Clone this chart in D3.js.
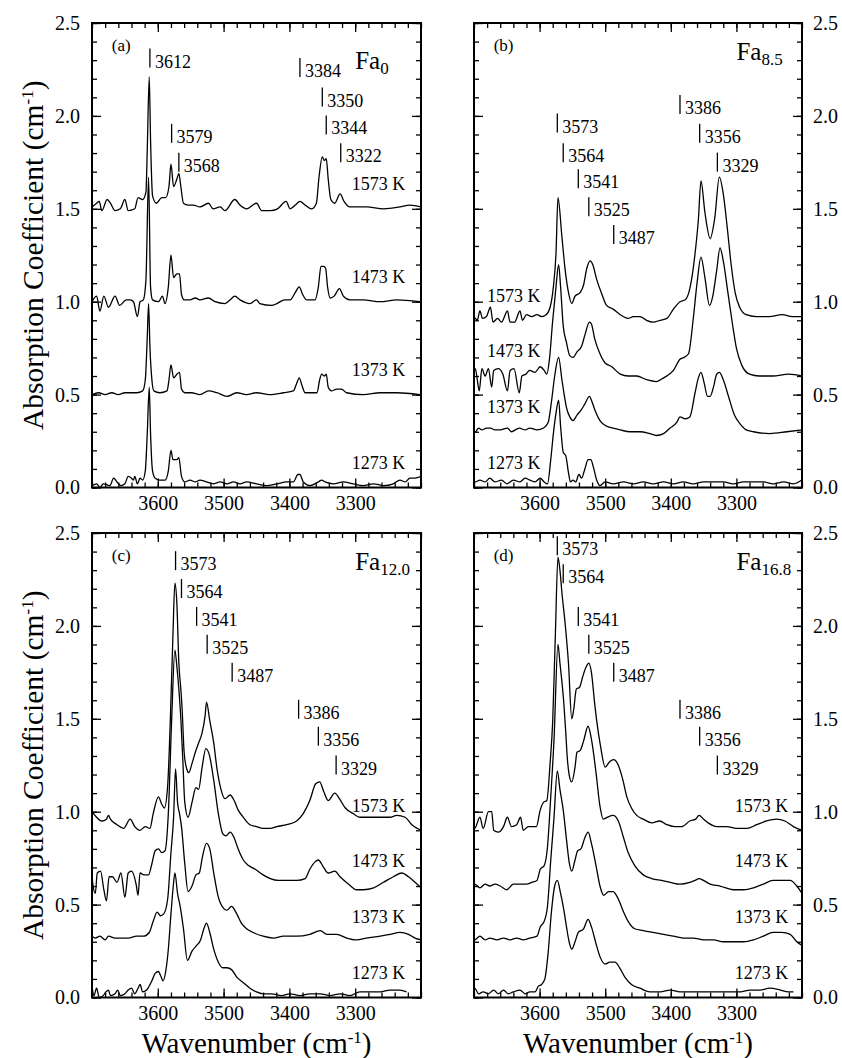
<!DOCTYPE html>
<html><head><meta charset="utf-8">
<script src="https://cdn.jsdelivr.net/npm/d3@7"></script>
<style>
body{margin:0;background:#fff}
svg{display:block;font-family:"Liberation Serif","Times New Roman","DejaVu Serif",serif}
text{font-family:"Liberation Serif","Times New Roman","DejaVu Serif",serif;fill:#000}
</style>
</head><body>
<svg id="c" width="842" height="1058"></svg>
<script>
// ---------- tick values ----------
const xTicks = [3600, 3500, 3400, 3300];
const xMinorTicks = [3700,3680,3660,3640,3620,3600,3580,3560,3540,3520,3500,3480,3460,3440,3420,3400,3380,3360,3340,3320,3300,3280,3260,3240,3220,3200];
const yTicks = [0, 0.5, 1.0, 1.5, 2.0, 2.5];
const yMinorTicks = [0,0.1,0.2,0.3,0.4,0.5,0.6,0.7,0.8,0.9,1.0,1.1,1.2,1.3,1.4,1.5,1.6,1.7,1.8,1.9,2.0,2.1,2.2,2.3,2.4,2.5];
const temps = ["1573 K", "1473 K", "1373 K", "1273 K"];

// ---------- Fa0 spectra [wavenumber, absorption] ----------
const fa0_1573 = [[3700,1.51],[3693,1.53],[3689,1.54],[3685,1.49],[3677,1.55],[3672,1.53],[3665,1.49],[3657,1.50],[3650,1.55],[3645,1.49],[3635,1.50],[3630,1.56],[3623,1.55],[3618,1.59],[3616,1.82],[3613,2.21],[3611,1.87],[3608,1.57],[3602,1.53],[3594,1.56],[3588,1.56],[3583,1.62],[3580,1.74],[3576,1.62],[3571,1.66],[3568,1.69],[3565,1.62],[3561,1.53],[3554,1.52],[3546,1.52],[3536,1.51],[3523,1.53],[3516,1.50],[3505,1.51],[3498,1.49],[3483,1.55],[3475,1.52],[3465,1.50],[3450,1.53],[3442,1.49],[3429,1.49],[3418,1.50],[3405,1.54],[3399,1.50],[3391,1.52],[3384,1.54],[3376,1.52],[3366,1.50],[3359,1.53],[3355,1.67],[3350,1.78],[3347,1.76],[3344,1.77],[3341,1.66],[3337,1.55],[3331,1.53],[3323,1.58],[3317,1.54],[3308,1.51],[3283,1.51],[3257,1.50],[3232,1.51],[3217,1.52],[3200,1.51]];
const fa0_1473 = [[3700,1.00],[3693,1.03],[3688,0.95],[3682,1.03],[3675,0.97],[3665,1.03],[3658,0.98],[3648,1.01],[3642,1.01],[3637,1.00],[3631,0.92],[3627,1.00],[3622,1.01],[3618,1.12],[3614,1.67],[3611,1.08],[3608,1.01],[3599,1.00],[3593,1.03],[3589,0.99],[3584,1.08],[3580,1.25],[3576,1.13],[3571,1.15],[3567,1.15],[3564,1.04],[3560,1.01],[3551,1.01],[3543,1.02],[3536,1.01],[3523,1.02],[3513,1.00],[3498,0.99],[3490,1.01],[3483,1.03],[3475,1.01],[3460,0.99],[3450,1.01],[3445,0.99],[3427,0.98],[3419,0.99],[3407,1.01],[3399,1.01],[3391,1.05],[3385,1.08],[3380,1.04],[3374,1.01],[3361,1.01],[3356,1.08],[3352,1.19],[3348,1.19],[3345,1.18],[3342,1.08],[3338,1.02],[3332,1.03],[3324,1.07],[3318,1.03],[3308,1.01],[3288,1.01],[3262,1.00],[3237,1.01],[3202,1.00]];
const fa0_1373 = [[3700,0.50],[3690,0.51],[3680,0.50],[3670,0.51],[3660,0.50],[3650,0.51],[3642,0.51],[3632,0.51],[3623,0.52],[3619,0.58],[3616,0.81],[3614,0.99],[3612,0.76],[3609,0.58],[3606,0.52],[3597,0.51],[3586,0.52],[3583,0.58],[3580,0.66],[3576,0.59],[3571,0.61],[3567,0.62],[3564,0.53],[3559,0.51],[3549,0.51],[3536,0.50],[3523,0.52],[3510,0.51],[3495,0.49],[3480,0.51],[3465,0.50],[3450,0.51],[3430,0.50],[3409,0.51],[3394,0.52],[3389,0.56],[3385,0.59],[3381,0.55],[3376,0.51],[3358,0.51],[3354,0.58],[3351,0.61],[3347,0.60],[3344,0.61],[3341,0.54],[3336,0.52],[3328,0.53],[3321,0.53],[3313,0.51],[3288,0.50],[3262,0.51],[3237,0.51],[3202,0.50]];
const fa0_1273 = [[3700,0.01],[3693,0.02],[3688,0.00],[3683,0.02],[3673,0.01],[3667,0.05],[3662,0.03],[3656,0.01],[3650,0.02],[3645,0.06],[3640,0.05],[3637,0.04],[3635,0.06],[3631,0.02],[3627,0.05],[3623,0.04],[3619,0.09],[3616,0.29],[3613,0.54],[3611,0.29],[3608,0.09],[3604,0.05],[3597,0.04],[3589,0.04],[3584,0.09],[3580,0.20],[3577,0.15],[3571,0.15],[3568,0.16],[3564,0.06],[3559,0.03],[3551,0.04],[3543,0.03],[3536,0.04],[3526,0.03],[3516,0.02],[3505,0.03],[3495,0.02],[3485,0.03],[3475,0.02],[3465,0.03],[3450,0.02],[3435,0.01],[3419,0.02],[3404,0.03],[3394,0.03],[3387,0.07],[3384,0.07],[3379,0.03],[3369,0.01],[3356,0.03],[3351,0.04],[3346,0.03],[3333,0.02],[3318,0.03],[3303,0.02],[3288,0.01],[3272,0.02],[3257,0.01],[3242,0.02],[3232,0.04],[3224,0.03],[3217,0.05],[3209,0.05],[3200,0.06]];

// ---------- Fa8.5 spectra ----------
const fa85_1573 = [[3700,0.91],[3698,0.91],[3695,0.90],[3691,0.95],[3687,0.91],[3681,0.92],[3675,0.97],[3671,0.89],[3664,0.91],[3658,0.89],[3649,0.95],[3645,0.89],[3638,0.89],[3630,0.95],[3626,0.90],[3620,0.93],[3612,0.92],[3604,0.93],[3597,0.92],[3590,0.93],[3584,0.97],[3579,1.08],[3575,1.26],[3572,1.56],[3566,1.35],[3561,1.17],[3556,1.05],[3551,0.99],[3546,1.03],[3538,1.05],[3533,1.09],[3528,1.18],[3523,1.22],[3519,1.20],[3513,1.12],[3505,1.04],[3498,0.98],[3488,0.96],[3477,0.93],[3465,0.91],[3457,0.92],[3447,0.92],[3437,0.90],[3427,0.89],[3416,0.90],[3406,0.91],[3396,0.96],[3386,1.00],[3378,1.01],[3371,1.07],[3363,1.26],[3358,1.44],[3354,1.65],[3348,1.48],[3340,1.34],[3333,1.45],[3326,1.67],[3320,1.58],[3314,1.40],[3308,1.20],[3302,1.05],[3295,0.97],[3285,0.93],[3270,0.92],[3250,0.92],[3230,0.93],[3215,0.92],[3200,0.92]];
const fa85_1473 = [[3700,0.62],[3698,0.64],[3695,0.58],[3692,0.52],[3688,0.64],[3683,0.60],[3678,0.64],[3673,0.54],[3670,0.63],[3663,0.64],[3656,0.61],[3649,0.52],[3645,0.63],[3639,0.64],[3631,0.51],[3627,0.60],[3621,0.61],[3615,0.63],[3607,0.62],[3599,0.65],[3593,0.63],[3589,0.61],[3585,0.69],[3580,0.90],[3575,1.08],[3571,1.20],[3568,1.08],[3564,0.87],[3559,0.78],[3554,0.71],[3549,0.70],[3543,0.73],[3536,0.76],[3531,0.82],[3524,0.89],[3521,0.88],[3516,0.80],[3508,0.72],[3500,0.67],[3490,0.65],[3477,0.61],[3465,0.60],[3452,0.60],[3437,0.58],[3422,0.57],[3411,0.59],[3396,0.63],[3386,0.69],[3380,0.70],[3373,0.72],[3366,0.90],[3360,1.10],[3354,1.24],[3348,1.13],[3341,0.98],[3336,1.03],[3330,1.17],[3325,1.29],[3320,1.22],[3313,1.05],[3306,0.88],[3300,0.75],[3292,0.66],[3280,0.61],[3265,0.60],[3245,0.60],[3220,0.61],[3200,0.60]];
const fa85_1373 = [[3700,0.30],[3698,0.30],[3693,0.32],[3688,0.31],[3681,0.32],[3675,0.32],[3668,0.31],[3660,0.31],[3649,0.32],[3643,0.30],[3631,0.32],[3622,0.31],[3615,0.32],[3604,0.31],[3594,0.32],[3587,0.35],[3582,0.46],[3577,0.60],[3571,0.70],[3566,0.58],[3563,0.51],[3559,0.43],[3554,0.38],[3549,0.36],[3543,0.39],[3536,0.42],[3531,0.45],[3524,0.49],[3521,0.47],[3516,0.42],[3508,0.36],[3498,0.33],[3488,0.32],[3477,0.31],[3462,0.30],[3447,0.30],[3432,0.29],[3422,0.28],[3411,0.29],[3401,0.32],[3391,0.35],[3386,0.38],[3378,0.37],[3371,0.38],[3363,0.51],[3358,0.59],[3354,0.62],[3349,0.56],[3344,0.49],[3340,0.49],[3335,0.54],[3330,0.61],[3326,0.62],[3320,0.58],[3312,0.49],[3303,0.39],[3295,0.345],[3285,0.31],[3274,0.30],[3249,0.29],[3223,0.30],[3200,0.31]];
const fa85_1273 = [[3700,0.03],[3698,0.03],[3691,0.04],[3683,0.03],[3676,0.05],[3668,0.03],[3658,0.04],[3650,0.02],[3640,0.04],[3630,0.03],[3622,0.05],[3615,0.04],[3607,0.03],[3599,0.05],[3593,0.03],[3588,0.02],[3583,0.15],[3579,0.29],[3575,0.40],[3571,0.47],[3568,0.33],[3564,0.19],[3560,0.17],[3556,0.08],[3553,0.03],[3549,0.04],[3545,0.03],[3540,0.07],[3536,0.05],[3531,0.10],[3526,0.15],[3522,0.15],[3518,0.11],[3513,0.04],[3508,0.01],[3500,0.03],[3488,0.02],[3472,0.03],[3457,0.02],[3442,0.03],[3427,0.02],[3411,0.03],[3396,0.02],[3381,0.03],[3366,0.02],[3350,0.03],[3335,0.03],[3320,0.03],[3305,0.02],[3289,0.03],[3274,0.03],[3259,0.03],[3244,0.02],[3228,0.03],[3213,0.02],[3200,0.04]];

// ---------- Fa12.0 spectra ----------
const fa120_1573 = [[3700,1.00],[3693,0.97],[3685,0.95],[3678,0.96],[3675,0.98],[3672,0.96],[3662,0.93],[3652,0.91],[3642,0.96],[3635,0.92],[3627,0.90],[3619,0.92],[3612,0.91],[3607,0.99],[3599,1.08],[3594,1.04],[3590,1.02],[3585,1.14],[3581,1.49],[3577,1.95],[3574,2.23],[3571,2.12],[3568,1.80],[3565,1.66],[3563,1.55],[3560,1.32],[3556,1.23],[3553,1.21],[3548,1.26],[3543,1.32],[3538,1.37],[3533,1.42],[3528,1.52],[3526,1.59],[3521,1.49],[3515,1.37],[3510,1.23],[3504,1.12],[3498,1.07],[3490,1.09],[3484,1.06],[3478,1.01],[3470,0.97],[3460,0.93],[3450,0.92],[3440,0.91],[3429,0.91],[3419,0.92],[3404,0.93],[3389,0.95],[3379,0.99],[3369,1.06],[3360,1.15],[3354,1.16],[3348,1.11],[3341,1.06],[3331,1.10],[3324,1.07],[3315,1.02],[3303,0.99],[3293,0.97],[3277,0.97],[3262,0.97],[3247,0.97],[3237,0.98],[3224,0.97],[3214,0.93],[3200,0.90]];
const fa120_1473 = [[3700,0.67],[3699,0.62],[3695,0.56],[3692,0.67],[3687,0.68],[3682,0.58],[3678,0.52],[3674,0.65],[3669,0.65],[3662,0.62],[3656,0.67],[3650,0.54],[3645,0.67],[3640,0.68],[3633,0.61],[3630,0.55],[3627,0.67],[3621,0.66],[3614,0.66],[3609,0.72],[3604,0.79],[3599,0.80],[3594,0.78],[3589,0.79],[3584,0.99],[3579,1.49],[3574,1.87],[3571,1.78],[3568,1.66],[3565,1.50],[3562,1.28],[3559,1.05],[3554,0.97],[3548,1.05],[3542,1.13],[3538,1.12],[3533,1.23],[3527,1.34],[3522,1.31],[3515,1.17],[3508,0.99],[3501,0.88],[3496,0.87],[3490,0.89],[3484,0.86],[3478,0.80],[3470,0.74],[3462,0.71],[3452,0.69],[3440,0.66],[3429,0.64],[3417,0.63],[3404,0.63],[3389,0.63],[3376,0.64],[3369,0.69],[3361,0.73],[3356,0.74],[3348,0.70],[3341,0.67],[3331,0.68],[3323,0.65],[3310,0.61],[3298,0.58],[3288,0.58],[3272,0.59],[3257,0.62],[3242,0.65],[3229,0.67],[3219,0.65],[3209,0.62],[3200,0.59]];
const fa120_1373 = [[3700,0.33],[3695,0.32],[3688,0.33],[3680,0.31],[3675,0.33],[3665,0.32],[3655,0.32],[3645,0.32],[3632,0.33],[3622,0.33],[3613,0.35],[3607,0.41],[3601,0.46],[3596,0.44],[3591,0.45],[3585,0.53],[3580,0.78],[3576,0.97],[3573,1.23],[3570,1.05],[3567,0.99],[3564,0.92],[3559,0.72],[3554,0.57],[3548,0.60],[3542,0.66],[3537,0.67],[3532,0.76],[3526,0.83],[3521,0.80],[3515,0.67],[3508,0.54],[3500,0.48],[3495,0.47],[3488,0.49],[3480,0.45],[3473,0.40],[3465,0.37],[3455,0.35],[3440,0.33],[3424,0.32],[3409,0.33],[3389,0.33],[3369,0.34],[3353,0.36],[3343,0.34],[3328,0.34],[3313,0.32],[3298,0.31],[3283,0.32],[3262,0.33],[3247,0.34],[3232,0.35],[3219,0.34],[3209,0.32],[3200,0.31]];
const fa120_1273 = [[3700,0.06],[3697,0.01],[3693,0.05],[3689,0.00],[3683,0.01],[3679,0.03],[3675,0.04],[3672,0.01],[3665,0.02],[3661,0.04],[3657,0.01],[3650,0.02],[3645,0.04],[3640,0.05],[3635,0.02],[3630,0.05],[3627,0.07],[3623,0.03],[3617,0.04],[3609,0.09],[3604,0.13],[3599,0.14],[3596,0.12],[3592,0.09],[3588,0.14],[3584,0.26],[3580,0.45],[3577,0.58],[3574,0.67],[3570,0.56],[3566,0.49],[3561,0.37],[3555,0.20],[3548,0.25],[3541,0.28],[3535,0.31],[3530,0.37],[3526,0.40],[3521,0.35],[3515,0.26],[3508,0.19],[3501,0.16],[3495,0.16],[3488,0.15],[3480,0.11],[3470,0.08],[3460,0.05],[3450,0.03],[3440,0.02],[3427,0.02],[3412,0.01],[3399,0.02],[3384,0.01],[3369,0.02],[3353,0.02],[3338,0.01],[3323,0.02],[3308,0.01],[3293,0.03],[3277,0.03],[3262,0.03],[3247,0.04],[3232,0.04],[3222,0.03]];

// ---------- Fa16.8 spectra ----------
const fa168_1573 = [[3700,0.91],[3699,0.91],[3691,0.97],[3686,0.91],[3678,1.00],[3673,1.00],[3670,0.90],[3663,0.89],[3655,0.92],[3649,0.97],[3643,0.92],[3635,0.93],[3629,0.97],[3625,0.90],[3617,0.92],[3610,0.92],[3605,0.92],[3599,1.01],[3594,1.05],[3589,1.06],[3584,1.26],[3580,1.49],[3576,1.95],[3572,2.37],[3569,2.30],[3566,2.18],[3561,2.01],[3556,1.80],[3551,1.50],[3548,1.55],[3544,1.66],[3539,1.67],[3534,1.73],[3529,1.78],[3525,1.80],[3521,1.75],[3516,1.58],[3513,1.49],[3507,1.35],[3500,1.24],[3493,1.27],[3487,1.28],[3480,1.25],[3473,1.17],[3467,1.08],[3460,1.02],[3452,0.98],[3442,0.96],[3429,0.94],[3417,0.95],[3406,0.93],[3394,0.92],[3383,0.92],[3371,0.95],[3362,0.96],[3357,0.98],[3350,0.96],[3343,0.94],[3330,0.92],[3315,0.92],[3300,0.91],[3284,0.91],[3269,0.93],[3254,0.95],[3239,0.96],[3226,0.95],[3213,0.92],[3200,0.90]];
const fa168_1473 = [[3700,0.60],[3699,0.61],[3691,0.59],[3683,0.61],[3676,0.60],[3668,0.61],[3660,0.60],[3650,0.58],[3640,0.61],[3630,0.61],[3620,0.61],[3612,0.62],[3604,0.63],[3599,0.69],[3593,0.71],[3588,0.81],[3583,1.08],[3578,1.39],[3572,1.90],[3569,1.80],[3566,1.70],[3563,1.58],[3560,1.42],[3558,1.30],[3555,1.20],[3551,1.16],[3546,1.24],[3543,1.32],[3538,1.33],[3533,1.38],[3526,1.46],[3521,1.39],[3514,1.21],[3508,1.03],[3503,0.96],[3497,0.97],[3488,0.98],[3480,0.95],[3472,0.86],[3465,0.78],[3455,0.71],[3442,0.66],[3429,0.64],[3414,0.63],[3401,0.62],[3386,0.61],[3371,0.62],[3363,0.63],[3357,0.64],[3350,0.63],[3340,0.61],[3325,0.60],[3305,0.58],[3289,0.58],[3274,0.59],[3259,0.61],[3244,0.63],[3231,0.63],[3218,0.63],[3208,0.60],[3200,0.56]];
const fa168_1373 = [[3700,0.33],[3699,0.31],[3691,0.33],[3683,0.31],[3676,0.32],[3665,0.31],[3655,0.32],[3645,0.31],[3635,0.32],[3625,0.31],[3615,0.32],[3604,0.33],[3599,0.38],[3593,0.41],[3588,0.49],[3583,0.74],[3578,0.97],[3573,1.22],[3569,1.12],[3564,1.01],[3559,0.85],[3555,0.73],[3551,0.68],[3546,0.74],[3542,0.79],[3537,0.80],[3531,0.86],[3526,0.89],[3521,0.83],[3514,0.71],[3508,0.60],[3502,0.55],[3495,0.57],[3488,0.57],[3480,0.53],[3472,0.46],[3465,0.41],[3455,0.37],[3442,0.36],[3427,0.35],[3411,0.34],[3396,0.33],[3381,0.32],[3366,0.32],[3350,0.31],[3335,0.31],[3320,0.30],[3305,0.30],[3289,0.30],[3274,0.31],[3259,0.33],[3244,0.35],[3231,0.35],[3218,0.34],[3208,0.30],[3200,0.28]];
const fa168_1273 = [[3700,0.03],[3699,0.05],[3693,0.02],[3686,0.03],[3678,0.02],[3670,0.04],[3663,0.02],[3655,0.04],[3648,0.02],[3640,0.03],[3630,0.04],[3622,0.02],[3615,0.03],[3607,0.03],[3602,0.06],[3597,0.07],[3592,0.10],[3587,0.24],[3582,0.46],[3577,0.60],[3573,0.63],[3568,0.56],[3563,0.47],[3559,0.38],[3555,0.30],[3551,0.26],[3546,0.30],[3541,0.35],[3533,0.37],[3526,0.42],[3521,0.38],[3514,0.29],[3508,0.22],[3500,0.18],[3493,0.19],[3485,0.19],[3478,0.16],[3470,0.11],[3460,0.07],[3447,0.05],[3432,0.03],[3416,0.03],[3401,0.04],[3386,0.03],[3371,0.03],[3356,0.03],[3340,0.03],[3325,0.03],[3310,0.03],[3294,0.03],[3279,0.04],[3264,0.04],[3249,0.05],[3233,0.04],[3221,0.03],[3213,0.03]];

// ---------- peak markers [wavenumber, level of marker foot] ----------
const marksA = [[3612,2.26],[3579,1.855],[3568,1.70],[3384,2.21],[3350,2.05],[3344,1.90],[3322,1.75]];
const marksB = [[3573,1.91],[3564,1.75],[3541,1.61],[3525,1.46],[3487,1.31],[3386,2.01],[3356,1.855],[3329,1.70]];
const marksC = [[3573,2.30],[3564,2.15],[3541,2.00],[3525,1.85],[3487,1.70],[3386,1.50],[3356,1.355],[3329,1.20]];
const marksD = [[3573,2.38],[3564,2.23],[3541,2.00],[3525,1.85],[3487,1.70],[3386,1.50],[3356,1.355],[3329,1.20]];

// temperature label levels
const tempYA = [1.6, 1.1, 0.6, 0.1];
const tempYB = [1.0, 0.7, 0.4, 0.1];
const tempYC = [1.0, 0.7, 0.4, 0.1];
const tempYD = [1.0, 0.7, 0.4, 0.1];

const compositions = ["0", "8.5", "12.0", "16.8"];
const panelTags = ["(a)", "(b)", "(c)", "(d)"];

// ---------- layout ----------
const panels = [
  {tag:panelTags[0], sub:compositions[0], series:[fa0_1573,fa0_1473,fa0_1373,fa0_1273], tempY:tempYA, marks:marksA,
   box:[92,421,23,487.5], side:"left", bottom:false, tAnchor:"end", tW:3224, faY:2.25},
  {tag:panelTags[1], sub:compositions[1], series:[fa85_1573,fa85_1473,fa85_1373,fa85_1273], tempY:tempYB, marks:marksB,
   box:[474,802,23,487.5], side:"right", bottom:false, tAnchor:"start", tW:3680, faY:2.30},
  {tag:panelTags[2], sub:compositions[2], series:[fa120_1573,fa120_1473,fa120_1373,fa120_1273], tempY:tempYC, marks:marksC,
   box:[92,421,533,997.5], side:"left", bottom:true, tAnchor:"end", tW:3224, faY:2.30},
  {tag:panelTags[3], sub:compositions[3], series:[fa168_1573,fa168_1473,fa168_1373,fa168_1273], tempY:tempYD, marks:marksD,
   box:[474,802,533,997.5], side:"right", bottom:true, tAnchor:"end", tW:3221, faY:2.30}
];

const svg = d3.select("#c");
const fmt1 = d3.format(".1f");

panels.forEach((p, i) => {
  const [x0, x1, y0, y1] = p.box;
  const x = d3.scaleLinear().domain([3700, 3200]).range([x0, x1]);
  const y = d3.scaleLinear().domain([0, 2.5]).range([y1, y0]);
  const g = svg.append("g");

  const clipId = "clip" + i;
  svg.append("clipPath").attr("id", clipId).append("rect")
    .attr("x", x0).attr("y", y0).attr("width", x1 - x0).attr("height", y1 - y0);

  const tickStyle = sel => {
    sel.attr("font-family", null);
    sel.select(".domain").remove();
    sel.selectAll("line").attr("stroke", "#000").attr("stroke-width", 1.3);
    sel.selectAll("text").attr("font-size", 20).attr("fill", "#000");
  };
  g.append("g").attr("transform", `translate(0,${y1})`)
    .call(d3.axisBottom(x).tickValues(xMinorTicks).tickSizeInner(-5).tickSizeOuter(0).tickFormat("")).call(tickStyle);
  g.append("g").attr("transform", `translate(0,${y1})`)
    .call(d3.axisBottom(x).tickValues(xTicks).tickSizeInner(-9).tickSizeOuter(0).tickPadding(8).tickFormat(d3.format("d")))
    .call(tickStyle);
  g.append("g").attr("transform", `translate(0,${y0})`)
    .call(d3.axisTop(x).tickValues(xMinorTicks).tickSizeInner(-5).tickSizeOuter(0).tickFormat("")).call(tickStyle);
  g.append("g").attr("transform", `translate(0,${y0})`)
    .call(d3.axisTop(x).tickValues(xTicks).tickSizeInner(-9).tickSizeOuter(0).tickFormat("")).call(tickStyle);

  const leftMajor = d3.axisLeft(y).tickValues(yTicks).tickSizeInner(-9).tickSizeOuter(0).tickPadding(12);
  const rightMajor = d3.axisRight(y).tickValues(yTicks).tickSizeInner(-9).tickSizeOuter(0).tickPadding(11);
  if (p.side === "left") { leftMajor.tickFormat(fmt1); rightMajor.tickFormat(""); }
  else { leftMajor.tickFormat(""); rightMajor.tickFormat(fmt1); }
  g.append("g").attr("transform", `translate(${x0},0)`)
    .call(d3.axisLeft(y).tickValues(yMinorTicks).tickSizeInner(-5).tickSizeOuter(0).tickFormat("")).call(tickStyle);
  g.append("g").attr("transform", `translate(${x0},0)`).call(leftMajor).call(tickStyle);
  g.append("g").attr("transform", `translate(${x1},0)`)
    .call(d3.axisRight(y).tickValues(yMinorTicks).tickSizeInner(-5).tickSizeOuter(0).tickFormat("")).call(tickStyle);
  g.append("g").attr("transform", `translate(${x1},0)`).call(rightMajor).call(tickStyle);

  // spectra
  const line = d3.line().x(d => x(d[0])).y(d => y(d[1])).curve(d3.curveMonotoneX);
  g.append("g").attr("clip-path", `url(#${clipId})`)
    .selectAll("path").data(p.series).join("path")
    .attr("d", line).attr("fill", "none").attr("stroke", "#000").attr("stroke-width", 1.3)
    .attr("stroke-linejoin", "round");

  // frame
  g.append("rect").attr("x", x0).attr("y", y0).attr("width", x1 - x0).attr("height", y1 - y0)
    .attr("fill", "none").attr("stroke", "#000").attr("stroke-width", 2);

  // temperature labels
  g.selectAll("text.temp").data(temps).join("text").attr("class", "temp")
    .attr("x", x(p.tW)).attr("y", (d, k) => y(p.tempY[k]))
    .attr("text-anchor", p.tAnchor).attr("font-size", 18).text(d => d);

  // peak markers
  const mk = g.selectAll("g.mk").data(p.marks).join("g").attr("class", "mk");
  mk.append("line").attr("x1", d => x(d[0])).attr("x2", d => x(d[0]))
    .attr("y1", d => y(d[1])).attr("y2", d => y(d[1]) - 19)
    .attr("stroke", "#000").attr("stroke-width", 1.3);
  mk.append("text").attr("x", d => x(d[0]) + 5).attr("y", d => y(d[1]))
    .attr("font-size", 18).text(d => d[0]);

  // panel tag and composition
  g.append("text").attr("x", x(3670)).attr("y", y(2.35)).attr("font-size", 17).text(p.tag);
  const fa = g.append("text").attr("x", x(3300)).attr("y", y(p.faY)).attr("font-size", 25);
  fa.append("tspan").text("Fa");
  fa.append("tspan").attr("font-size", 17).attr("dy", 5).text(p.sub);

  // axis titles
  if (p.bottom) {
    const xt = svg.append("text").attr("x", (x0 + x1) / 2).attr("y", y1 + 55.5)
      .attr("text-anchor", "middle").attr("font-size", 29);
    xt.append("tspan").text("Wavenumber (cm");
    xt.append("tspan").attr("font-size", 17).attr("dy", -10).text("-1");
    xt.append("tspan").attr("dy", 10).text(")");
  }
  if (p.side === "left") {
    const cy = (y0 + y1) / 2;
    const yt = svg.append("text").attr("transform", `translate(43,${cy}) rotate(-90)`)
      .attr("text-anchor", "middle").attr("font-size", 29.5);
    yt.append("tspan").text("Absorption Coefficient (cm");
    yt.append("tspan").attr("font-size", 17).attr("dy", -10).text("-1");
    yt.append("tspan").attr("dy", 10).text(")");
  }
});
</script>
</body></html>
